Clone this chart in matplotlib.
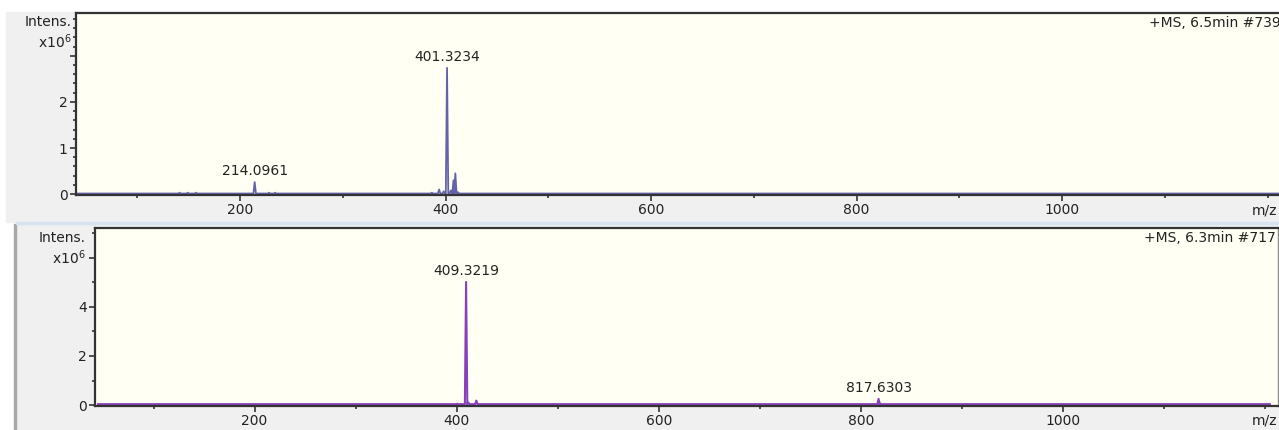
"""Two stacked mass spectra (+MS scans) in the style of a Bruker DataAnalysis screenshot."""
import matplotlib
matplotlib.use("Agg")
import matplotlib.pyplot as plt
from matplotlib.patches import Rectangle
from matplotlib.ticker import MultipleLocator, FixedLocator

plt.rcParams["font.family"] = ["DejaVu Sans"]
plt.rcParams["mathtext.fontset"] = "dejavusans"

# --- data ----------------------------------------------------------------
# top scan: +MS, 6.5min #739
top_mz = [141, 149, 157, 214.0961, 228, 234, 386.5, 393.6, 398, 401.3234, 405, 407.6, 409.4, 412]
top_int = [0.03, 0.03, 0.03, 0.26, 0.03, 0.03, 0.03, 0.10, 0.06, 2.74, 0.08, 0.30, 0.45, 0.04]
top_labels = {214.0961: "214.0961", 401.3234: "401.3234"}
top_base = 0.012
top_range = (40, 1215)

# bottom scan: +MS, 6.3min #717
bot_mz = [400.7, 409.3219, 411.5, 419.5, 817.6303, 819.5]
bot_int = [0.05, 5.02, 0.10, 0.18, 0.25, 0.05]
bot_labels = {409.3219: "409.3219", 817.6303: "817.6303"}
bot_base = 0.035
bot_range = (45, 1205)

W, H = 1279, 430
TOP_COLOR = "#6363a8"
BOT_COLOR = "#8a40b8"
PLOT_BG = "#fffff4"
PANEL_BG = "#f0f0f0"
TEXT = "#222222"
PEAK_HALF_WIDTH = 1.2


def frac(x0, y0, x1, y1):
    """pixel box (top-left origin) -> figure-fraction rect."""
    return [x0 / W, 1 - y1 / H, (x1 - x0) / W, (y1 - y0) / H]


def add_box(fig, x0, y0, x1, y1, color, z=-5):
    r = frac(x0, y0, x1, y1)
    fig.patches.append(Rectangle(r[:2], r[2], r[3], transform=fig.transFigure,
                                 color=color, zorder=z))


def profile(mz, inten, base, span):
    xs, ys = [span[0]], [base]
    for c, h in sorted(zip(mz, inten)):
        xs += [c - PEAK_HALF_WIDTH, c, c + PEAK_HALF_WIDTH]
        ys += [base, h, base]
    xs.append(span[1])
    ys.append(base)
    return xs, ys


def style_axes(ax, xlim, ylim, ymajor, yminor, ylabels):
    ax.set_facecolor(PLOT_BG)
    ax.set_xlim(*xlim)
    ax.set_ylim(*ylim)
    ax.xaxis.set_major_locator(FixedLocator([200, 400, 600, 800, 1000]))
    ax.xaxis.set_minor_locator(FixedLocator([100, 300, 500, 700, 900, 1100, 1200]))
    ax.yaxis.set_major_locator(FixedLocator(ymajor))
    ax.set_yticklabels(ylabels)
    ax.yaxis.set_minor_locator(MultipleLocator(yminor))
    ax.tick_params(which="both", direction="out", colors="#333333",
                   labelcolor=TEXT, labelsize=10, width=1.2)
    ax.tick_params(which="major", length=4, pad=2)
    ax.tick_params(which="minor", length=2.5)
    for side in ("top", "left", "bottom"):
        ax.spines[side].set_color("#333333")
        ax.spines[side].set_linewidth(1.6)
    ax.spines["right"].set_color("#888888")
    ax.spines["right"].set_linewidth(1.0)


fig = plt.figure(figsize=(W / 100, H / 100), dpi=100, facecolor="white")

# screenshot backgrounds
add_box(fig, 6, 12, W, 222, PANEL_BG)
add_box(fig, 16, 224, W, H, PANEL_BG)
add_box(fig, 14, 224, 16, H, "#a8a8a8", z=-4)
add_box(fig, 16, 222, W, 224, "#d6e3f0", z=-4)

# --- top panel -------------------------------------------------------------
ax1 = fig.add_axes(frac(76, 13, 1281, 195))
xs, ys = profile(top_mz, top_int, top_base, top_range)
ax1.plot(xs, ys, color=TOP_COLOR, lw=1.3)
for mz, lab in top_labels.items():
    ax1.annotate(lab, (mz, top_int[top_mz.index(mz)]), xytext=(0, 3),
                 textcoords="offset points", ha="center", va="bottom",
                 fontsize=10, color=TEXT)
style_axes(ax1, (40.2, 1213), (-0.02, 3.93), [0, 1, 2, 3], 0.2, ["0", "1", "2", ""])
ax1.text(1.0, 0.985, "+MS, 6.5min #739", transform=ax1.transAxes,
         ha="right", va="top", fontsize=10, color=TEXT)

fig.text(72 / W, 1 - 22 / H, "Intens.", ha="right", va="center", fontsize=10, color=TEXT)
fig.text(72 / W, 1 - 42 / H, r"x10$^{6}$", ha="right", va="center", fontsize=10, color=TEXT)
fig.text(1277 / W, 1 - 210 / H, "m/z", ha="right", va="center", fontsize=10, color=TEXT)

# --- bottom panel ----------------------------------------------------------
ax2 = fig.add_axes(frac(95, 228, 1278, 406))
xs, ys = profile(bot_mz, bot_int, bot_base, bot_range)
ax2.plot(xs, ys, color=BOT_COLOR, lw=1.5)
for mz, lab in bot_labels.items():
    ax2.annotate(lab, (mz, bot_int[bot_mz.index(mz)]), xytext=(0, 3),
                 textcoords="offset points", ha="center", va="bottom",
                 fontsize=10, color=TEXT)
style_axes(ax2, (42, 1213), (-0.04, 7.22), [0, 2, 4, 6], 1, ["0", "2", "4", ""])
ax2.text(0.998, 0.985, "+MS, 6.3min #717", transform=ax2.transAxes,
         ha="right", va="top", fontsize=10, color=TEXT)

fig.text(86 / W, 1 - 238 / H, "Intens.", ha="right", va="center", fontsize=10, color=TEXT)
fig.text(86 / W, 1 - 258 / H, r"x10$^{6}$", ha="right", va="center", fontsize=10, color=TEXT)
fig.text(1277 / W, 1 - 420 / H, "m/z", ha="right", va="center", fontsize=10, color=TEXT)

fig.savefig("out.png", dpi=100, facecolor="white")
plt.close(fig)
